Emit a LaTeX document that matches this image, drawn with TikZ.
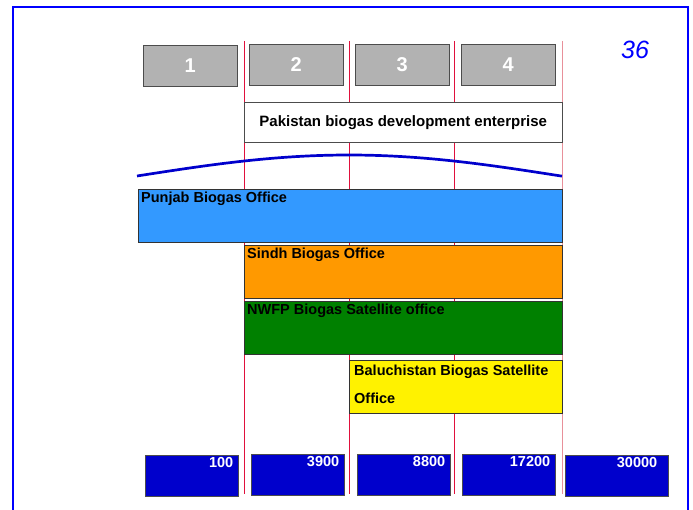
\documentclass[tikz,border=0pt]{standalone}
\usepackage{fontspec}
\setmainfont{Liberation Sans}
\definecolor{frameblue}{HTML}{0000FF}
\definecolor{darkblue}{HTML}{0000CC}
\definecolor{punjabblue}{HTML}{3399FF}
\definecolor{sindhorange}{HTML}{FF9900}
\definecolor{nwfpgreen}{HTML}{008000}
\definecolor{sepred}{HTML}{E0103C}
\definecolor{seppink}{HTML}{E8909A}
\newcommand\labfont{\fontsize{14.5}{28}\selectfont\bfseries}

\begin{document}
\begin{tikzpicture}[x=1pt,y=-1pt,
    box/.style={draw=black!70,anchor=north west,inner sep=0pt,minimum height=41pt},
    tab/.style={box,fill=black!30,minimum width=94pt,text=white,
      font=\fontsize{20}{24}\selectfont\bfseries},
    count/.style={box,fill=darkblue,minimum width=93pt},
    numlab/.style={anchor=north east,inner xsep=5pt,inner ysep=2pt,text=white,font=\labfont},
    office/.style={draw=black!80,anchor=north west,inner sep=0pt,minimum height=53pt},
    officelab/.style={anchor=north west,inner sep=3pt,font=\labfont,align=left},
    sep/.style={sepred,line width=1.1pt}]
  \useasboundingbox (0,0) rectangle (693,510);
  \draw[frameblue,line width=2pt] (13,510) -- (13,7) -- (688,7) -- (688,510);
  \node[frameblue,font=\fontsize{25}{30}\selectfont\itshape] (page) at (635,50) {36};
  \draw[sep] (244.5,41) -- (244.5,494);
  \draw[sep] (349.5,41) -- (349.5,494);
  \draw[sep] (454.5,41) -- (454.5,494);
  \draw[sep,seppink] (562.5,41) -- (562.5,494);
  \node[tab] (tab1) at (143,45) {1};
  \node[tab] (tab2) at (249,44) {2};
  \node[tab] (tab3) at (355,44) {3};
  \node[tab] (tab4) at (461,44) {4};
  \node[box,fill=white,minimum width=318pt,minimum height=40pt,font=\fontsize{15}{18}\selectfont\bfseries]
    (pbde) at (244,102) {Pakistan biogas development enterprise};
  \draw[darkblue,line width=2.7pt,domain=137:562,samples=60,variable=\t]
    plot (\t,{176-21*cos(0.4245*(\t-349))});
  \node[office,fill=punjabblue,minimum width=424pt] (punjab) at (138,189)
    [label={[officelab]north west:Punjab Biogas Office}] {};
  \node[office,fill=sindhorange,minimum width=318pt] (sindh) at (244,245)
    [label={[officelab]north west:Sindh Biogas Office}] {};
  \node[office,fill=nwfpgreen,minimum width=318pt] (nwfp) at (244,301)
    [label={[officelab]north west:NWFP Biogas Satellite office}] {};
  \node[office,fill=yellow,minimum width=213pt] (baluch) at (349,360)
    [label={[officelab,inner sep=5pt]north west:{Baluchistan Biogas Satellite\\Office}}] {};
  \node[count] (c100) at (145,455) [label={[numlab]north east:100}] {};
  \node[count] (c3900) at (251,454) [label={[numlab]north east:3900}] {};
  \node[count] (c8800) at (357,454) [label={[numlab]north east:8800}] {};
  \node[count] (c17200) at (462,454) [label={[numlab]north east:17200}] {};
  \node[count,minimum width=103pt] (c30000) at (565,455)
    [label={[numlab,xshift=-6pt]north east:30000}] {};
\end{tikzpicture}
\end{document}
